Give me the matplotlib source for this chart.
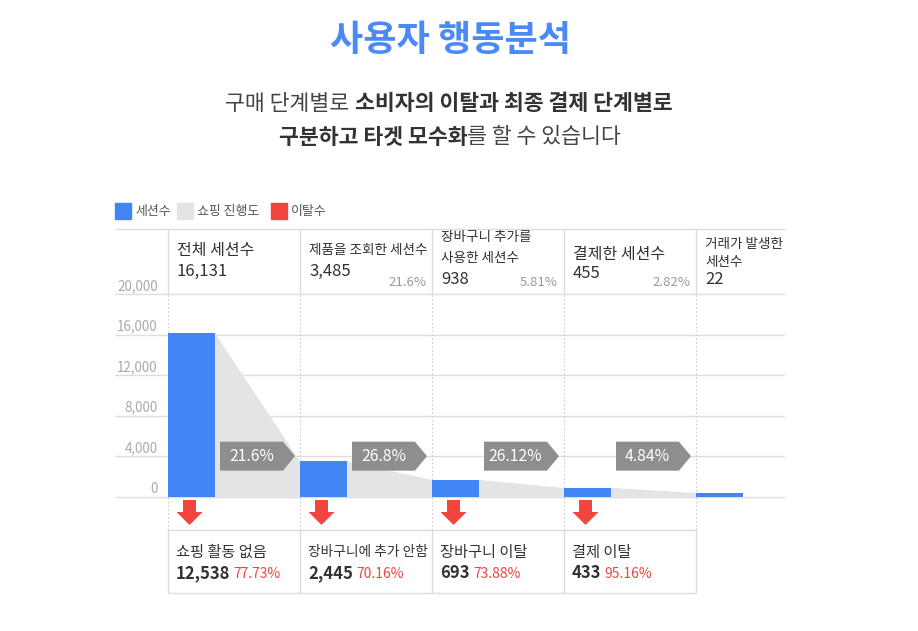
import matplotlib
matplotlib.use('Agg')
import matplotlib.pyplot as plt
from matplotlib.patches import Polygon, Rectangle

plt.rcParams['font.family'] = ['Noto Sans CJK KR', 'DejaVu Sans']

# ---- data ----
stage_names = ['전체 세션수', '제품을 조회한 세션수', '장바구니 추가를\n사용한 세션수',
               '결제한 세션수', '거래가 발생한\n세션수']
sessions = [16131, 3485, 938, 455, 22]
bar_heights = [16131, 3485, 1650, 860, 370]   # heights as drawn in the picture
session_share = [None, '21.6%', '5.81%', '2.82%', None]
step_rates = ['21.6%', '26.8%', '26.12%', '4.84%']
drop_names = ['쇼핑 활동 없음', '장바구니에 추가 안함', '장바구니 이탈', '결제 이탈']
drop_counts = [12538, 2445, 693, 433]
drop_rates = ['77.73%', '70.16%', '73.88%', '95.16%']
yticks = [0, 4000, 8000, 12000, 16000, 20000]

W, H = 918, 631
BLUE = '#4285f4'
RED = '#f2453d'
FUNNEL = '#e4e4e4'
LINE = '#dddddd'
DARK = '#333333'

fig = plt.figure(figsize=(W / 100, H / 100), dpi=100)
fig.patch.set_facecolor('white')


# pixel -> data helpers (layout only)
def px2x(px):
    return (px - 168) / 132


def py2v(py):
    return (496.7 - py) * 20000 / 202.7


ax = fig.add_axes([115 / W, (H - 593) / H, 670 / W, 364 / H])
ax.set_xlim(px2x(115), px2x(785))
ax.set_ylim(py2v(593), py2v(229))
ax.axis('off')

top = py2v(229)
bw = 47 / 132

# grid lines
ax.hlines(yticks, px2x(115), px2x(785), color=LINE, lw=1, zorder=1)
ax.hlines(top, px2x(115), px2x(785), color=LINE, lw=1, zorder=1, clip_on=False)
for v in yticks:
    ax.text(px2x(158), v + 8 * 20000 / 202.7, f'{v:,}', ha='right', va='center',
            fontsize=9.7, color='#aaaaaa')

# column separators
n = len(sessions)
ax.vlines(range(n), 20000, top, color=LINE, lw=1, zorder=1)
ax.vlines(range(n), py2v(530), 20000, color='#cccccc', lw=0.8,
          linestyles=(0, (1.5, 2)), zorder=1)

# funnel shading
for i in range(n - 1):
    poly = Polygon([(i + bw, bar_heights[i]), (i + 1, bar_heights[i + 1]),
                    (i + 1, 0), (i + bw, 0)], closed=True, color=FUNNEL, lw=0, zorder=2)
    ax.add_patch(poly)

ax.bar(range(n), bar_heights, width=bw, align='edge', color=BLUE, zorder=3)

# step conversion tags
hh = 14.5 * 20000 / 202.7
for i, r in enumerate(step_rates):
    x0, x1 = i + 52 / 132, i + 127 / 132
    xt = x1 - 12 / 132
    tag = Polygon([(x0, 4000 - hh), (xt, 4000 - hh), (x1, 4000), (xt, 4000 + hh),
                   (x0, 4000 + hh)], closed=True, color='#8e8e8e', lw=0, zorder=4)
    ax.add_patch(tag)
    ax.text((x0 + xt) / 2, 4000, r, ha='center', va='center', color='white',
            fontsize=11.3, zorder=5)

# red drop arrows
for i in range(len(drop_counts)):
    cx = i + 21.5 / 132
    sw, hw = 6.5 / 132, 13 / 132
    y0, y1, y2 = py2v(500), py2v(512), py2v(525)
    arr = Polygon([(cx - sw, y0), (cx + sw, y0), (cx + sw, y1), (cx + hw, y1), (cx, y2),
                   (cx - hw, y1), (cx - sw, y1)], closed=True, color=RED, lw=0, zorder=4)
    ax.add_patch(arr)

# bottom box
box = Rectangle((0, py2v(593)), 4, py2v(530) - py2v(593), fill=False, ec=LINE, lw=1,
                clip_on=False, zorder=3)
ax.add_patch(box)
ax.vlines([1, 2, 3], py2v(593), py2v(530), color=LINE, lw=1, zorder=3)

# header texts
head_rows = {
    0: [(250, 11.5), (271, 12)],
    1: [(250, 9.8), (271, 12)],
    2: [(237, 9.8), (258, 9.8), (279, 12)],
    3: [(254, 11.5), (273, 12)],
    4: [(244, 9.8), (262, 9.8), (280, 12)],
}
for i in range(n):
    lines = stage_names[i].split('\n') + [f'{sessions[i]:,}']
    for txt, (py, fs) in zip(lines, head_rows[i]):
        ax.text(i + 9 / 132, py2v(py), txt, ha='left', va='center', fontsize=fs,
                color=DARK, clip_on=False)
    if session_share[i]:
        ax.text(i + 1 - 6 / 132, py2v(283), session_share[i], ha='right', va='center',
                fontsize=9.5, color='#999999')

# bottom texts
for i in range(len(drop_counts)):
    fs = 9.9 if len(drop_names[i]) > 9 else 11
    ax.text(i + 8 / 132, py2v(552), drop_names[i], ha='left', va='center', fontsize=fs,
            color=DARK, clip_on=False)
    num = ax.text(i + 8 / 132, py2v(578), f'{drop_counts[i]:,}', ha='left',
                  va='baseline', fontsize=12, fontweight='bold', color=DARK, clip_on=False)
    ax.annotate(drop_rates[i], xy=(1, py2v(578)), xycoords=(num, 'data'),
                xytext=(2.5, 0), textcoords='offset points', ha='left', va='baseline',
                fontsize=10, color=RED, annotation_clip=False)

# legend
legend_items = [(BLUE, '세션수', 115), (FUNNEL, '쇼핑 진행도', 177), (RED, '이탈수', 271)]
for col, lab, px in legend_items:
    fig.patches.append(Rectangle((px / W, 1 - 219 / H), 16 / W, 16 / H, color=col,
                                 transform=fig.transFigure, figure=fig))
    fig.text((px + 20) / W, 1 - 211 / H, lab, fontsize=9.3, color='#555555', va='center')

# title
fig.text(450 / W, 1 - 41 / H, '사용자 행동분석', ha='center', va='center', fontsize=26,
         fontweight='bold', color='#4a8af4')

renderer = fig.canvas.get_renderer()


def rich_line(parts, cx, py, size, gap):
    texts = [fig.text(0, 1 - py / H, p[0], fontsize=size, fontweight=p[1], color=p[2],
                      va='center', ha='left') for p in parts]
    widths = [t.get_window_extent(renderer).width for t in texts]
    gaps = [gap if p[3] else 0 for p in parts]
    total = sum(widths) + sum(gaps[:-1])
    x = cx - total / 2
    for t, wd, g in zip(texts, widths, gaps):
        t.set_x(x / W)
        x += wd + g


rich_line([('구매 단계별로', 'normal', '#444444', True),
           ('소비자의 이탈과 최종 결제 단계별로', 'bold', DARK, False)], 449, 104, 15.6, 6)
rich_line([('구분하고 타겟 모수화', 'bold', DARK, False),
           ('를 할 수 있습니다', 'normal', '#444444', False)], 450, 137, 15.6, 6)

fig.savefig('out.png', dpi=100, facecolor='white')
